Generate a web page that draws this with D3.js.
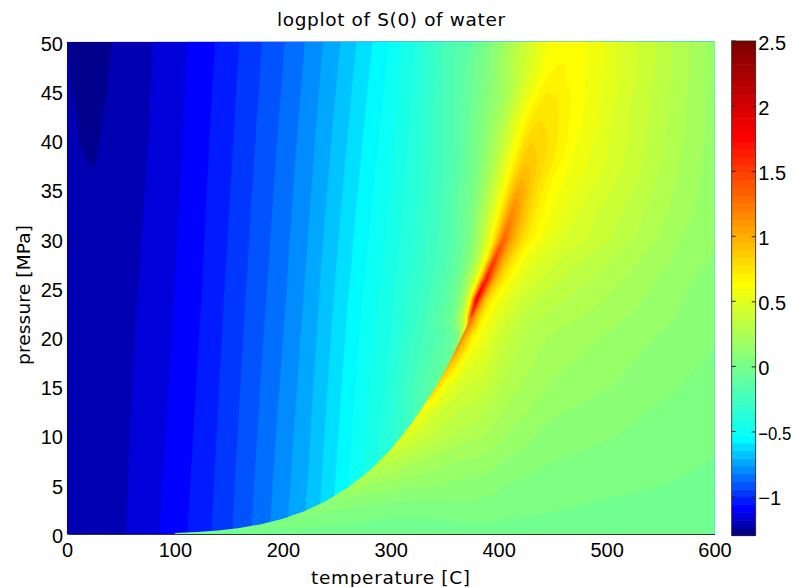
<!DOCTYPE html>
<html>
<head>
<meta charset="utf-8">
<script src="https://cdn.jsdelivr.net/npm/d3@7"></script>
<style>
body{margin:0;background:#fff;}
text{fill:#000;}
</style>
</head>
<body>
<div id="chart"></div>
<script>
// grid nodes. Columns past 350 C follow the ridge row by row
const fixedTemps = [0,25,50,75,100,125,150,175,200,225,250,275,300,325,350];
const leftFractions = [.2,.4,.6,.75,.85,.92,.97];
const rightOffsets = [3,6,10,15,22,30,40,55,75];
const farTemps = [575,600];
const pressures = [0,5,10,15,20,22,24,26,28,30,32,34,36,38,40,42,44,46,48,50];
const ridgeTemps = [372,372,372,372,372,374,380,389,397,405,411,416,421,426,431,437,443,450,458,465];
const logS = [
[-1.235,-1.215,-1.19,-1.145,-1.09,-1.03,-.955,-.87,-.78,-.685,-.565,-.44,-.32,-.2,-.08, -.05,-.03,-.02,-.02,-.02,-.02,-.02, -.02, -.02,-.02,-.02,-.02,-.02,-.02,-.02,-.02,-.02, -.02,-.02],
[-1.233,-1.214,-1.192,-1.15,-1.096,-1.037,-.962,-.879,-.792,-.697,-.58,-.458,-.342,-.22,-.1, -.05,-.02,0,.02,.04,.06,.08, .09, .1,.1,.1,.09,.09,.07,.06,.05,.04, 0,-.01],
[-1.231,-1.213,-1.194,-1.155,-1.103,-1.043,-.97,-.889,-.803,-.709,-.594,-.475,-.364,-.2,-.1, -.05,-.02,0,.03,.06,.1,.15, .2, .23,.25,.25,.24,.22,.2,.17,.14,.1, .03,.02],
[-1.229,-1.212,-1.196,-1.16,-1.109,-1.05,-.977,-.898,-.815,-.722,-.608,-.493,-.386,-.2,-.05, -.03,0,.05,.1,.15,.2,.25, .3, .36,.4,.4,.38,.35,.31,.27,.23,.18, .06,.05],
[-1.227,-1.21,-1.198,-1.165,-1.116,-1.056,-.985,-.908,-.826,-.734,-.623,-.51,-.408,-.26,-.13, -.09,-.03,.1,.3,.5,.75,.9, .9, .75,.66,.6,.55,.47,.41,.35,.29,.24, .09,.07],
[-1.226,-1.21,-1.199,-1.167,-1.118,-1.059,-.987,-.911,-.831,-.739,-.628,-.517,-.417,-.29,-.1, -.06,.05,.22,.45,.7,1,1.3, 1.5, 1.1,.95,.74,.62,.54,.46,.39,.32,.28, .11,.09],
[-1.225,-1.212,-1.2,-1.169,-1.121,-1.062,-.99,-.915,-.836,-.744,-.634,-.524,-.426,-.3,-.15, -.08,0,.2,.5,.9,1.35,1.7, 1.85, 1.5,1.1,.85,.7,.58,.5,.43,.37,.32, .12,.1],
[-1.226,-1.215,-1.201,-1.171,-1.123,-1.064,-.994,-.919,-.84,-.749,-.64,-.532,-.434,-.31,-.17, -.1,.02,.25,.52,.85,1.25,1.55, 1.68, 1.42,1.15,.92,.76,.63,.54,.47,.41,.35, .13,.11],
[-1.227,-1.219,-1.203,-1.172,-1.125,-1.067,-.997,-.922,-.844,-.754,-.647,-.539,-.441,-.33,-.19, -.12,-.01,.2,.48,.78,1.12,1.4, 1.5, 1.3,1.12,.95,.8,.66,.56,.5,.44,.38, .15,.12],
[-1.228,-1.224,-1.205,-1.174,-1.127,-1.069,-1,-.926,-.848,-.759,-.654,-.546,-.448,-.336,-.2, -.12,0,.26,.54,.8,1.08,1.25, 1.33, 1.22,1.1,.97,.85,.72,.63,.55,.48,.43, .17,.13],
[-1.229,-1.229,-1.207,-1.176,-1.129,-1.071,-1.003,-.929,-.853,-.764,-.66,-.554,-.455,-.342,-.21, -.1,.02,.3,.56,.8,1.02,1.15, 1.2, 1.13,1.05,.95,.85,.72,.64,.57,.5,.43, .19,.14],
[-1.231,-1.234,-1.209,-1.177,-1.131,-1.074,-1.006,-.932,-.857,-.769,-.667,-.561,-.462,-.349,-.21, -.1,.02,.28,.54,.76,.95,1.05, 1.08, 1.05,1,.91,.8,.72,.64,.58,.52,.45, .2,.15],
[-1.233,-1.238,-1.212,-1.179,-1.133,-1.076,-1.009,-.936,-.861,-.774,-.674,-.568,-.47,-.355,-.22, -.11,.02,.28,.52,.72,.87,.94, .96, .95,.92,.87,.8,.73,.65,.6,.54,.47, .21,.15],
[-1.234,-1.243,-1.214,-1.18,-1.135,-1.079,-1.012,-.939,-.865,-.779,-.68,-.576,-.477,-.362,-.22, -.12,.03,.26,.5,.68,.8,.87, .88, .875,.865,.8375,.8,.745,.68,.6,.55,.48, .22,.15],
[-1.235,-1.247,-1.217,-1.182,-1.136,-1.081,-1.015,-.943,-.869,-.784,-.687,-.583,-.484,-.368,-.22, -.12,.04,.26,.48,.66,.77,.82, .83, .825,.815,.795,.778,.73,.68,.61,.55,.47, .23,.16],
[-1.235,-1.25,-1.22,-1.184,-1.138,-1.083,-1.018,-.946,-.873,-.79,-.693,-.59,-.491,-.374,-.22, -.11,.06,.25,.5,.65,.73,.765, .775, .775,.77,.76,.735,.7,.65,.6,.54,.45, .24,.16],
[-1.236,-1.254,-1.222,-1.185,-1.14,-1.086,-1.021,-.95,-.878,-.795,-.7,-.598,-.498,-.381,-.22, -.1,.05,.23,.46,.6,.69,.725, .735, .735,.735,.725,.71,.67,.63,.59,.53,.44, .24,.16],
[-1.238,-1.256,-1.225,-1.187,-1.142,-1.088,-1.024,-.953,-.882,-.8,-.707,-.605,-.506,-.387,-.22, -.1,.06,.25,.46,.58,.65,.685, .695, .69,.68,.665,.65,.625,.6,.565,.51,.43, .25,.16],
[-1.239,-1.258,-1.228,-1.188,-1.144,-1.091,-1.027,-.957,-.886,-.805,-.713,-.612,-.513,-.394,-.22, -.1,.08,.32,.48,.6,.64,.65, .655, .655,.65,.645,.635,.61,.58,.55,.48,.41, .25,.16],
[-1.241,-1.26,-1.231,-1.19,-1.146,-1.093,-1.03,-.96,-.89,-.81,-.72,-.62,-.52,-.4,-.22, -.12,.08,.34,.52,.61,.625,.63, .63, .63,.63,.62,.61,.58,.55,.51,.45,.38, .25,.16]
];
// the vapour side under the saturation curve
const vaporTemps = [100,150,200,225,250,275,300,320,340,350,360,370,375,380,385];
const vaporPressures = [0,1,2,3.5,5,7.5,10,12.5,15,17.5,20,22];
const vaporLogS = [
[-.02,-.02,-.02,-.02,-.02,-.02,-.02,-.02,-.02,-.02,-.02,-.02,-.02,-.02,-.02],
[.04,.04,.03,.02,.01,0,-.01,-.01,-.01,0,0,0,0,0,0],
[.1,.1,.09,.07,.05,.03,.02,.02,.02,.02,.02,.03,.03,.03,.03],
[.2,.2,.2,.17,.12,.09,.08,.07,.07,.07,.07,.07,.07,.07,.07],
[.32,.32,.32,.3,.28,.2,.16,.14,.13,.12,.11,.1,.1,.1,.1],
[.42,.42,.42,.42,.42,.38,.33,.26,.22,.2,.19,.18,.18,.18,.17],
[.52,.52,.52,.52,.52,.52,.52,.45,.36,.32,.29,.27,.26,.25,.24],
[.72,.72,.72,.72,.72,.72,.72,.72,.46,.41,.37,.35,.34,.33,.32],
[.9,.9,.9,.9,.9,.9,.9,.9,.9,.58,.47,.42,.41,.4,.38],
[1.15,1.15,1.15,1.15,1.15,1.15,1.15,1.15,1.15,1.15,.8,.55,.5,.48,.46],
[1.5,1.5,1.5,1.5,1.5,1.5,1.5,1.5,1.5,1.5,1.5,.95,.72,.62,.55],
[1.5,1.5,1.5,1.5,1.5,1.5,1.5,1.5,1.5,1.5,1.5,1.5,1.3,.95,.72]
];
const satTemps = [100,120,140,160,180,200,220,240,260,280,300,320,340,350,360,370,374];
const satPressures = [.1,.2,.36,.62,1,1.55,2.32,3.35,4.69,6.41,8.59,11.3,14.6,16.5,18.7,21,22.06];

// colorbar steps
const levelCount = 64;
const levelMin = -1.3, levelMax = 2.5;
const colorStops = [-1.3,-1.09,-.55,.045,.64,1.76,2.5];
const colorNames = ["#00007a","#0000ff","#00ffff","#80ff80","#ffff00","#ff0000","#7a0000"];
const xTicks = [0,100,200,300,400,500,600];
const yTicks = [0,5,10,15,20,25,30,35,40,45,50];
const barTicks = [-1,-.5,0,.5,1,1.5,2,2.5];

let width = 794, height = 587;
let left = 67, right = 714.5, top_ = 41.7, bottom = 534;

let thresholds = d3.range(levelCount).map(i => levelMin + i*(levelMax-levelMin)/levelCount);
let step = (levelMax-levelMin)/levelCount;
let color = d3.scaleLinear().domain(colorStops).range(colorNames);

let x = d3.scaleLinear().domain([0,600]).range([left,right]);
let y = d3.scaleLinear().domain([0,50]).range([bottom,top_]);

let svg = d3.select("#chart").append("svg")
    .attr("width",width)
    .attr("height",height)
    .style("display","block");

let defs = svg.append("defs");
defs.append("clipPath").attr("id","plotClip")
    .append("rect")
    .attr("x",left).attr("y",top_)
    .attr("width",right-left).attr("height",bottom-top_);

let satLine = d3.line().x(d => x(d[0])).y(d => y(d[1]));
let satShape = [[satTemps[0],0]].concat(d3.zip(satTemps,satPressures),[[380,22],[380,0]]);
// a mask, not a clipPath: a clipPath antialiases every stacked band on its own and leaves a dark seam
defs.append("mask").attr("id","vaporMask")
    .attr("maskUnits","userSpaceOnUse")
    .attr("x",0).attr("y",0).attr("width",width).attr("height",height)
    .append("path")
    .attr("d",satLine(satShape)+"Z")
    .attr("fill","#fff");

// temperature of column i in row j of the main grid
function mainTemp(i,j){
    let r = ridgeTemps[j];
    let nodes = fixedTemps.concat(leftFractions.map(u => 350+u*(r-350)),[r],rightOffsets.map(o => r+o),farTemps);
    return nodes[i];
}

function drawField(g,values,tempAt,pressNodes){
    let n = values[0].length, m = values.length;
    let path = d3.geoPath(d3.geoTransform({
        point(ci,cj){
            let i = Math.max(0,Math.min(n-1,ci-.5)), j = Math.max(0,Math.min(m-1,cj-.5));
            let i0 = Math.min(Math.floor(i),n-2), j0 = Math.min(Math.floor(j),m-2);
            let fi = i-i0, fj = j-j0;
            let t = (1-fj)*((1-fi)*tempAt(i0,j0)+fi*tempAt(i0+1,j0))
                  + fj*((1-fi)*tempAt(i0,j0+1)+fi*tempAt(i0+1,j0+1));
            let p = pressNodes[j0]+fj*(pressNodes[j0+1]-pressNodes[j0]);
            this.stream.point(x(t),y(p));
        }
    }));
    let polys = d3.contours().size([n,m]).thresholds(thresholds).smooth(true)(values.flat());
    g.selectAll("path")
        .data(polys)
        .join("path")
            .attr("d",path)
            .attr("fill",d => color(d.value+step/2));
}

let field = svg.append("g").attr("clip-path","url(#plotClip)");
drawField(field.append("g"),logS,mainTemp,pressures);
drawField(field.append("g").attr("mask","url(#vaporMask)"),vaporLogS,i => vaporTemps[i],vaporPressures);

let font = "'Liberation Sans',sans-serif";
let labelFont = "18.5px 'DejaVu Sans',sans-serif";

// axes
let xAxis = d3.axisBottom(x).tickValues(xTicks).tickSize(0).tickPadding(9);
let yAxis = d3.axisLeft(y).tickValues(yTicks).tickSize(0).tickPadding(4);

let gx = svg.append("g").attr("transform",`translate(0,${bottom})`).call(xAxis);
let gy = svg.append("g").attr("transform",`translate(${left},0)`).call(yAxis);
gx.select(".domain").attr("stroke","#333").attr("stroke-width",1);
gy.select(".domain").remove();
gx.selectAll("text").style("font",`20px ${font}`).attr("fill","#000");
gy.selectAll("text").style("font",`20px ${font}`).attr("fill","#000").attr("dy","0.42em");

// labels
svg.append("text").attr("x",391).attr("y",26).attr("text-anchor","middle")
    .attr("textLength",228).style("font",labelFont).text("logplot of S(0) of water");
svg.append("text").attr("x",390.5).attr("y",584).attr("text-anchor","middle")
    .attr("textLength",159).style("font",labelFont).text("temperature [C]");
svg.append("text").attr("transform","translate(30,295) rotate(-90)").attr("text-anchor","middle")
    .attr("textLength",140).style("font",labelFont).text("pressure [MPa]");

// colorbar
let barLeft = 731.7, barRight = 755.7;
let barY = d3.scaleLinear().domain([levelMin,levelMax]).range([535.6,41]);
let bar = svg.append("g");
bar.selectAll("rect")
    .data(thresholds)
    .join("rect")
        .attr("x",barLeft)
        .attr("y",d => barY(d+step))
        .attr("width",barRight-barLeft)
        .attr("height",d => barY(d)-barY(d+step)+.5)
        .attr("fill",d => color(d+step/2));
bar.append("rect")
    .attr("x",barLeft).attr("y",barY(levelMax))
    .attr("width",barRight-barLeft).attr("height",barY(levelMin)-barY(levelMax))
    .attr("fill","none").attr("stroke","#222").attr("stroke-width",.8);

let barAxis = d3.axisRight(barY).tickValues(barTicks).tickSize(-4).tickPadding(6)
    .tickFormat(d => String(d).replace("-","\u2212"));
let gb = svg.append("g").attr("transform",`translate(${barRight},0)`).call(barAxis);
gb.select(".domain").remove();
gb.selectAll("line").attr("stroke","#222");
gb.selectAll("text").style("font",`20px ${font}`).attr("fill","#000").attr("x",2.5).attr("dy","0.42em");
// the -0.5 label only just fits the window
gb.selectAll("text").filter(d => d === -.5)
    .style("font",`18px ${font}`).attr("textLength",33).attr("lengthAdjust","spacingAndGlyphs");
svg.append("g").selectAll("line").data(barTicks).join("line")
    .attr("x1",barLeft).attr("x2",barLeft+4)
    .attr("y1",d => barY(d)).attr("y2",d => barY(d))
    .attr("stroke","#222");
</script>
</body>
</html>
